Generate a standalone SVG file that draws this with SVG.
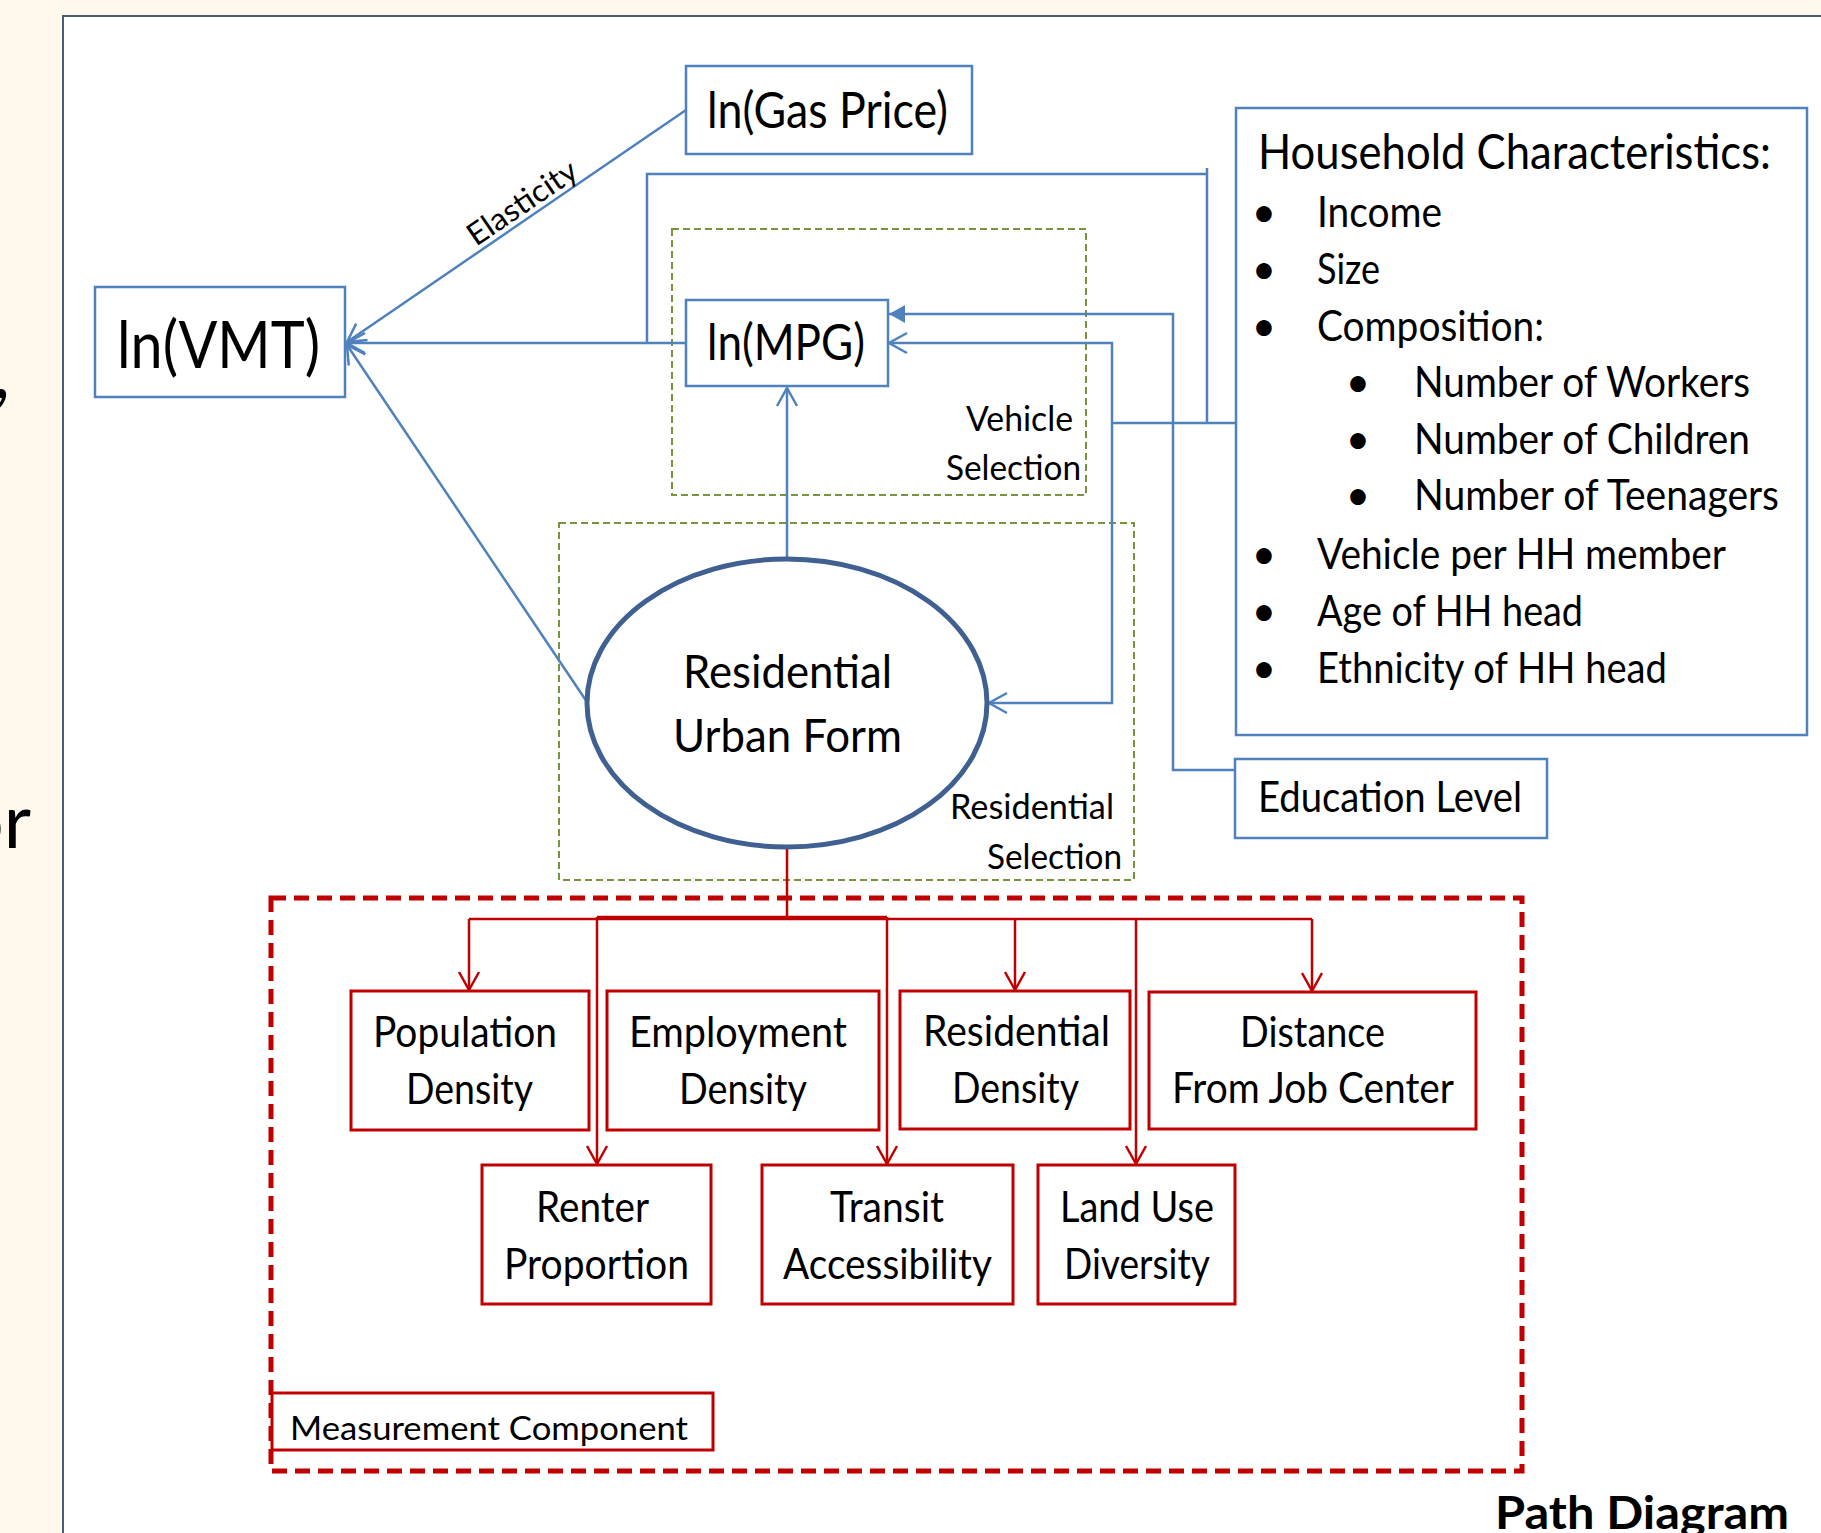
<svg xmlns="http://www.w3.org/2000/svg" width="1821" height="1533" viewBox="0 0 1821 1533">
<style>
.t{font-family:Lato,"Open Sans","Liberation Sans",sans-serif;fill:#000}
.bn{fill:#fff;stroke:#4F81BD;stroke-width:2.5}
.rn{fill:#fff;stroke:#C00000;stroke-width:3}
.bl{fill:none;stroke:#4F81BD;stroke-width:2.5}
.rl{fill:none;stroke:#C00000;stroke-width:2.5}
.gd{fill:none;stroke:#77933C;stroke-width:2;stroke-dasharray:7 4}
</style>
<defs>
<marker id="ob" markerUnits="userSpaceOnUse" viewBox="-20 -12 24 24" markerWidth="24" markerHeight="24" refX="0" refY="0" orient="auto" overflow="visible">
<path d="M-18,-10 L0,0 L-18,10" fill="none" stroke="#4F81BD" stroke-width="2.5"/>
</marker>
<marker id="fb" markerUnits="userSpaceOnUse" viewBox="-20 -12 24 24" markerWidth="24" markerHeight="24" refX="0" refY="0" orient="auto" overflow="visible">
<path d="M-16,-9 L0,0 L-16,9 Z" fill="#4F81BD"/>
</marker>
<marker id="or" markerUnits="userSpaceOnUse" viewBox="-20 -12 24 24" markerWidth="24" markerHeight="24" refX="0" refY="0" orient="auto" overflow="visible">
<path d="M-18,-10 L0,0 L-18,10" fill="none" stroke="#C00000" stroke-width="2.5"/>
</marker>
</defs>
<rect x="0" y="0" width="1821" height="1533" fill="#FEF9EC"/>
<rect x="63" y="16" width="1800" height="1600" fill="#fff" stroke="#4C5B6E" stroke-width="2"/>
<text class="t" x="10" y="398" font-size="75" text-anchor="end">,</text>
<text class="t" x="31" y="848" font-size="75" text-anchor="end">or</text>

<g id="selection-boxes">
<rect class="gd" x="672" y="229" width="414" height="266"/>
<rect class="gd" x="559" y="523" width="575" height="357"/>
<text class="t" x="966" y="431" font-size="34" textLength="107" lengthAdjust="spacingAndGlyphs">Vehicle</text>
<text class="t" x="946" y="480" font-size="34" textLength="135" lengthAdjust="spacingAndGlyphs">Selection</text>
<text class="t" x="950" y="819" font-size="34" textLength="164" lengthAdjust="spacingAndGlyphs">Residential</text>
<text class="t" x="987" y="869" font-size="34" textLength="135" lengthAdjust="spacingAndGlyphs">Selection</text>
</g>

<g id="measurement-component">
<rect x="271" y="898" width="1251" height="573" fill="none" stroke="#C00000" stroke-width="5" stroke-dasharray="15 8"/>
<rect class="rn" x="272" y="1393" width="441" height="57"/>
<text class="t" x="290" y="1440" font-size="32" textLength="398" lengthAdjust="spacingAndGlyphs">Measurement Component</text>
</g>

<g id="connectors">
<path class="bl" d="M686,110 L347,342" marker-end="url(#ob)"/>
<path class="bl" d="M686,343 L347,343" marker-end="url(#ob)"/>
<path class="bl" d="M587,702 L347,345" marker-end="url(#ob)"/>
<path class="bl" d="M1236,423 L1112,423"/>
<path class="bl" d="M1207,423 L1207,168 M1207,174 L647,174 L647,343"/>
<path class="bl" d="M1112,423 L1112,343 L889,343" marker-end="url(#ob)"/>
<path class="bl" d="M1112,423 L1112,703 L989,703" marker-end="url(#ob)"/>
<path class="bl" d="M1235,770 L1173,770 L1173,314 L889,314" marker-end="url(#fb)"/>
<path class="bl" d="M787,559 L787,388" marker-end="url(#ob)"/>
<path class="rl" d="M787,846 L787,917" stroke-width="3"/>
<path class="rl" d="M469,919 L1312,919"/>
<path class="rl" d="M597,917 L887,917" stroke-width="4"/>
<path class="rl" d="M469,919 L469,990" marker-end="url(#or)"/>
<path class="rl" d="M597,917 L597,1164" marker-end="url(#or)"/>
<path class="rl" d="M887,917 L887,1164" marker-end="url(#or)"/>
<path class="rl" d="M1015,919 L1015,990" marker-end="url(#or)"/>
<path class="rl" d="M1136,919 L1136,1164" marker-end="url(#or)"/>
<path class="rl" d="M1312,919 L1312,991" marker-end="url(#or)"/>
<text class="t" x="476" y="247" font-size="31" textLength="126" lengthAdjust="spacingAndGlyphs" transform="rotate(-34.3 476 247)">Elasticity</text>
</g>

<g id="ln-vmt">
<rect class="bn" x="95" y="287" width="250" height="110"/>
<text class="t" x="117" y="368" font-size="66" textLength="203" lengthAdjust="spacingAndGlyphs">ln(VMT)</text>
</g>
<g id="ln-gas-price">
<rect class="bn" x="686" y="66" width="286" height="88"/>
<text class="t" x="707" y="128" font-size="50" textLength="241" lengthAdjust="spacingAndGlyphs">ln(Gas Price)</text>
</g>
<g id="ln-mpg">
<rect class="bn" x="686" y="300" width="202" height="86"/>
<text class="t" x="707" y="360" font-size="50" textLength="158" lengthAdjust="spacingAndGlyphs">ln(MPG)</text>
</g>
<g id="urban-form">
<ellipse cx="787" cy="703" rx="200" ry="144" fill="#fff" stroke="#3F6090" stroke-width="5"/>
<text class="t" x="683" y="688" font-size="46" textLength="209" lengthAdjust="spacingAndGlyphs">Residential</text>
<text class="t" x="673" y="752" font-size="46" textLength="229" lengthAdjust="spacingAndGlyphs">Urban Form</text>
</g>
<g id="household">
<rect class="bn" x="1236" y="108" width="571" height="627"/>
<text class="t" x="1258" y="169" font-size="48" textLength="513" lengthAdjust="spacingAndGlyphs">Household Characteristics:</text>
<g font-size="42">
<text class="t" x="1264" y="227" text-anchor="middle">•</text>
<text class="t" x="1264" y="284" text-anchor="middle">•</text>
<text class="t" x="1264" y="341" text-anchor="middle">•</text>
<text class="t" x="1358" y="397" text-anchor="middle">•</text>
<text class="t" x="1358" y="454" text-anchor="middle">•</text>
<text class="t" x="1358" y="510" text-anchor="middle">•</text>
<text class="t" x="1264" y="569" text-anchor="middle">•</text>
<text class="t" x="1264" y="626" text-anchor="middle">•</text>
<text class="t" x="1264" y="683" text-anchor="middle">•</text>
<text class="t" x="1317" y="227" textLength="125" lengthAdjust="spacingAndGlyphs">Income</text>
<text class="t" x="1317" y="284" textLength="63" lengthAdjust="spacingAndGlyphs">Size</text>
<text class="t" x="1317" y="341" textLength="227" lengthAdjust="spacingAndGlyphs">Composition:</text>
<text class="t" x="1414" y="397" textLength="336" lengthAdjust="spacingAndGlyphs">Number of Workers</text>
<text class="t" x="1414" y="454" textLength="336" lengthAdjust="spacingAndGlyphs">Number of Children</text>
<text class="t" x="1414" y="510" textLength="365" lengthAdjust="spacingAndGlyphs">Number of Teenagers</text>
<text class="t" x="1317" y="569" textLength="409" lengthAdjust="spacingAndGlyphs">Vehicle per HH member</text>
<text class="t" x="1317" y="626" textLength="266" lengthAdjust="spacingAndGlyphs">Age of HH head</text>
<text class="t" x="1317" y="683" textLength="350" lengthAdjust="spacingAndGlyphs">Ethnicity of HH head</text>
</g>
</g>
<g id="education-level">
<rect class="bn" x="1235" y="759" width="312" height="79"/>
<text class="t" x="1258" y="812" font-size="42" textLength="264" lengthAdjust="spacingAndGlyphs">Education Level</text>
</g>

<g id="population-density">
<rect class="rn" x="351" y="991" width="238" height="139"/>
<text class="t" x="373" y="1047" font-size="42" textLength="184" lengthAdjust="spacingAndGlyphs">Population</text>
<text class="t" x="406" y="1104" font-size="42" textLength="127" lengthAdjust="spacingAndGlyphs">Density</text>
</g>
<g id="employment-density">
<rect class="rn" x="607" y="991" width="272" height="139"/>
<text class="t" x="629" y="1047" font-size="42" textLength="218" lengthAdjust="spacingAndGlyphs">Employment</text>
<text class="t" x="679" y="1104" font-size="42" textLength="128" lengthAdjust="spacingAndGlyphs">Density</text>
</g>
<g id="residential-density">
<rect class="rn" x="900" y="991" width="230" height="138"/>
<text class="t" x="923" y="1046" font-size="42" textLength="187" lengthAdjust="spacingAndGlyphs">Residential</text>
<text class="t" x="952" y="1103" font-size="42" textLength="127" lengthAdjust="spacingAndGlyphs">Density</text>
</g>
<g id="distance-job-center">
<rect class="rn" x="1149" y="992" width="327" height="137"/>
<text class="t" x="1240" y="1047" font-size="42" textLength="145" lengthAdjust="spacingAndGlyphs">Distance</text>
<text class="t" x="1172" y="1103" font-size="42" textLength="282" lengthAdjust="spacingAndGlyphs">From Job Center</text>
</g>
<g id="renter-proportion">
<rect class="rn" x="482" y="1165" width="229" height="139"/>
<text class="t" x="536" y="1222" font-size="42" textLength="113" lengthAdjust="spacingAndGlyphs">Renter</text>
<text class="t" x="504" y="1279" font-size="42" textLength="185" lengthAdjust="spacingAndGlyphs">Proportion</text>
</g>
<g id="transit-accessibility">
<rect class="rn" x="762" y="1165" width="251" height="139"/>
<text class="t" x="830" y="1222" font-size="42" textLength="114" lengthAdjust="spacingAndGlyphs">Transit</text>
<text class="t" x="783" y="1279" font-size="42" textLength="209" lengthAdjust="spacingAndGlyphs">Accessibility</text>
</g>
<g id="land-use-diversity">
<rect class="rn" x="1038" y="1165" width="197" height="139"/>
<text class="t" x="1060" y="1222" font-size="42" textLength="154" lengthAdjust="spacingAndGlyphs">Land Use</text>
<text class="t" x="1064" y="1279" font-size="42" textLength="146" lengthAdjust="spacingAndGlyphs">Diversity</text>
</g>

<text class="t" x="1495" y="1529" font-size="46" font-weight="bold" textLength="294" lengthAdjust="spacingAndGlyphs">Path Diagram</text>
</svg>
